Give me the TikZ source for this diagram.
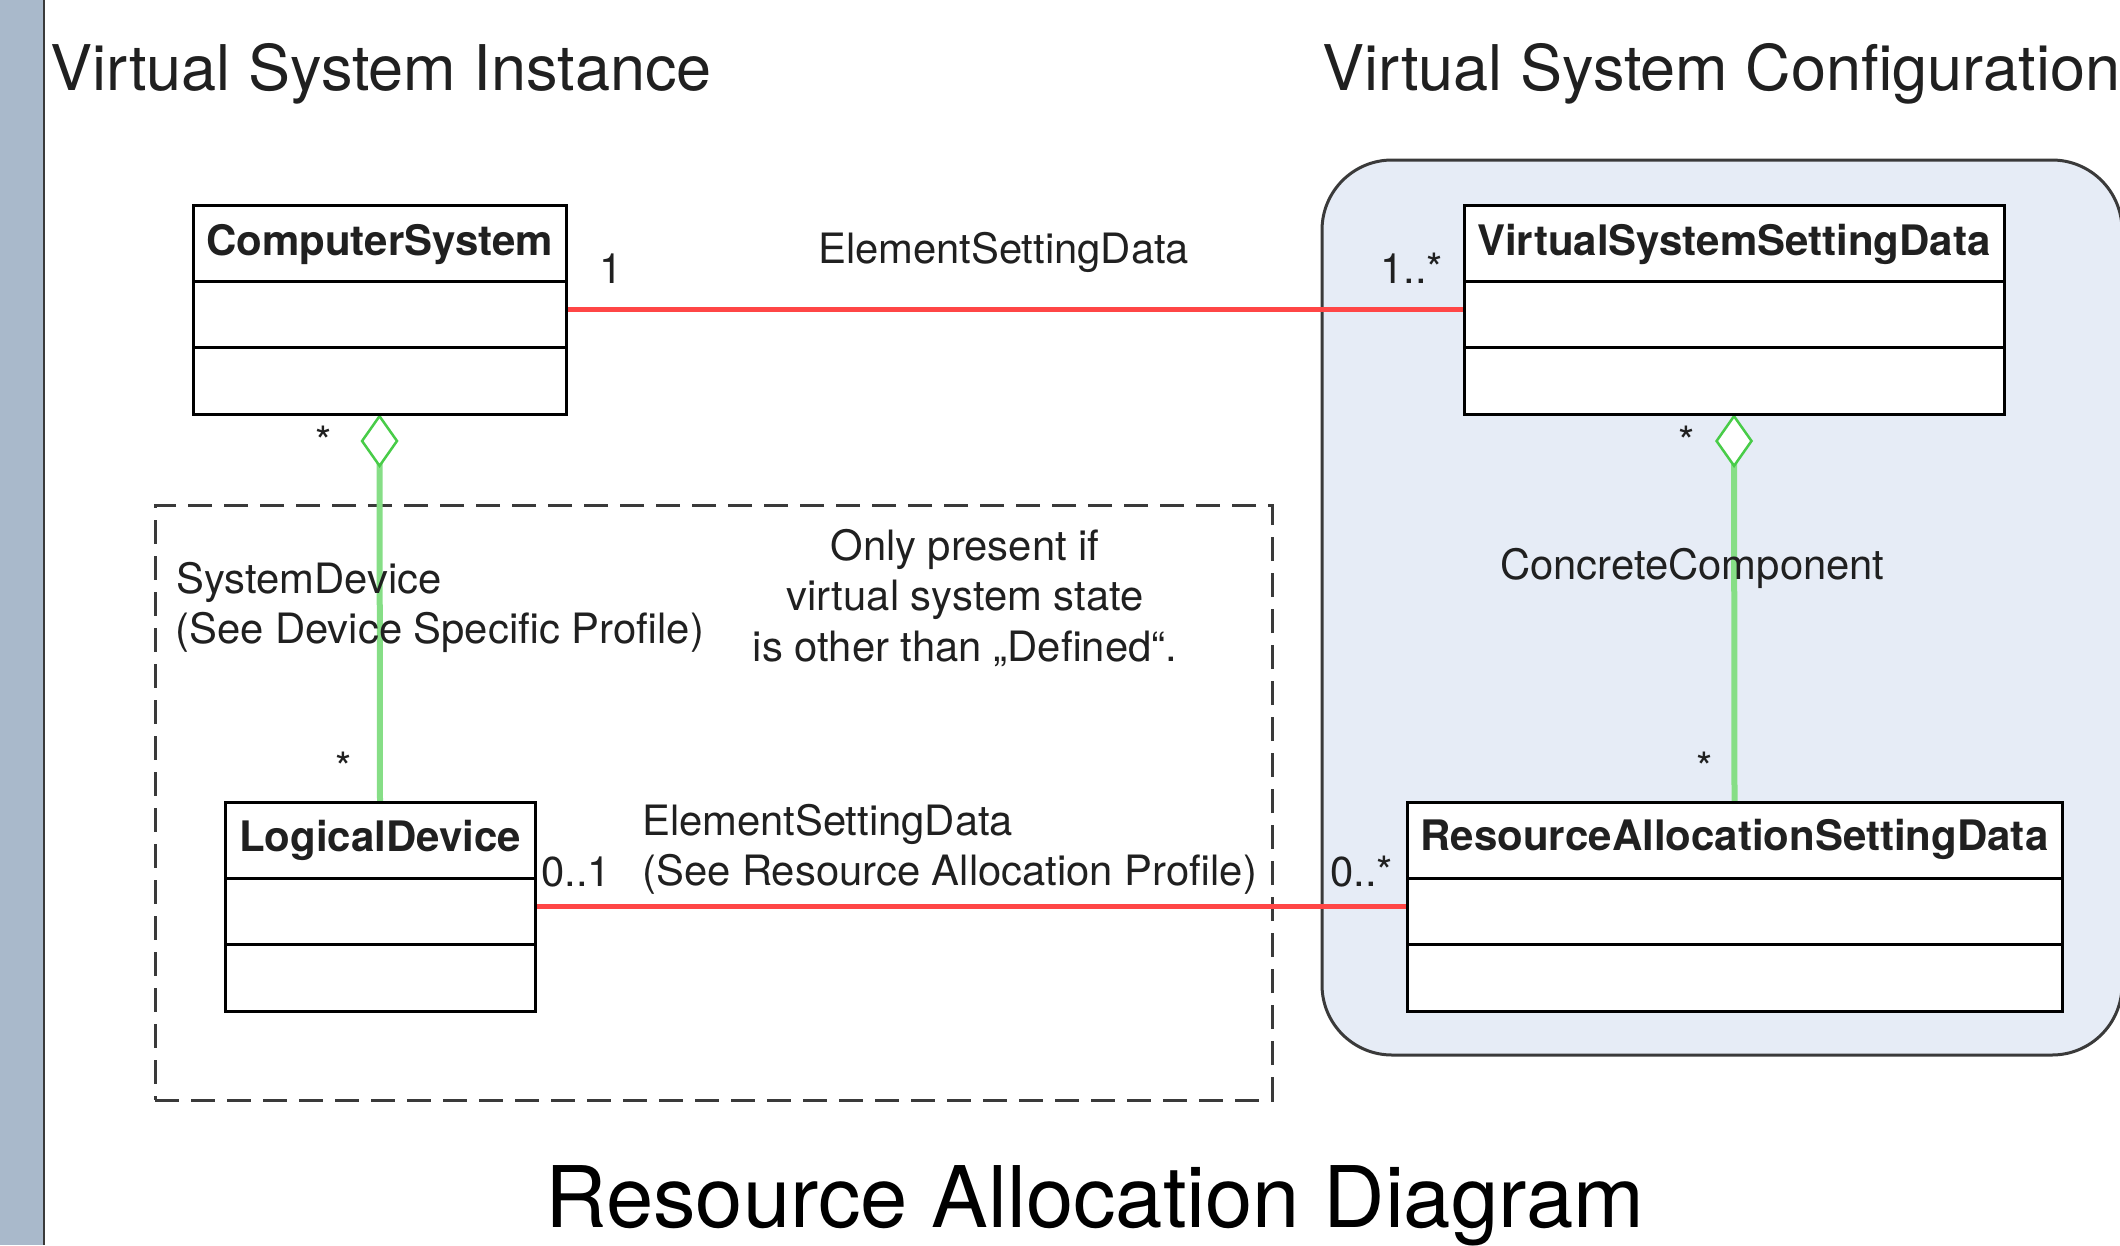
\documentclass[tikz,border=0pt]{standalone}
\usepackage{fontspec}
\setmainfont{TeX Gyre Heros}
\usetikzlibrary{arrows.meta}
\pgfdeclarelayer{bg}
\pgfsetlayers{bg,main}
\definecolor{barblue}{HTML}{A9B9CB}
\definecolor{vscfill}{HTML}{E6ECF6}
\definecolor{assocred}{HTML}{FF4646}
\definecolor{aggline}{HTML}{86DE86}
\definecolor{aggtip}{HTML}{48CC48}
\definecolor{ink}{HTML}{202020}
\definecolor{frameink}{HTML}{3A3A3A}
\begin{document}
\begin{tikzpicture}[x=1pt,y=-1pt,
  classbox/.style={draw=black, line width=3pt, fill=white, minimum width=#1,
    minimum height=209pt, inner sep=0pt, outer sep=0pt, anchor=north west},
  divider/.style={draw=black, line width=3pt},
  classname/.style={font=\fontsize{42}{50}\selectfont\bfseries, text=ink,
    inner sep=0pt, anchor=base},
  lbl/.style={font=\fontsize{41.8}{50}\selectfont, text=ink, inner sep=0pt,
    anchor=base west},
  lblc/.style={font=\fontsize{41.8}{50}\selectfont, text=ink, inner sep=0pt,
    anchor=base},
  title/.style={font=\fontsize{63}{74}\selectfont, text=ink, inner sep=0pt,
    anchor=base west},
  assoc/.style={draw=assocred, line width=5pt},
  agg/.style={draw=aggline, line width=6pt,
    arrows={Diamond[length=54pt, width=38pt, fill=white, color=aggtip, line width=2.5pt]-}},
]
\useasboundingbox (0,0) rectangle (2120,1245);

% side bar
\node[fill=barblue, draw=none, minimum width=44pt, minimum height=1245pt,
  inner sep=0pt, outer sep=0pt, anchor=north west] (sidebar) at (0,0) {};
\draw[line width=2.5pt, color=frameink] (sidebar.north east) -- (sidebar.south east);

% titles
\node[title] (titleA) at (50,90) {Virtual System Instance};
\node[title] (titleB) at (1322,90) {Virtual System Configuration};
\node[font=\fontsize{85}{100}\selectfont, text=black, inner sep=0pt, anchor=base]
  (titleC) at (1095,1227) {Resource Allocation Diagram};

% class boxes
\node[classbox=373pt] (cs) at (193,205) {};
\node[classbox=540pt] (vssd) at (1464,205) {};
\node[classbox=310pt] (ld) at (225,802) {};
\node[classbox=655pt] (rasd) at (1407,802) {};

\foreach \b in {cs,vssd,ld,rasd}{
  \draw[divider] ([yshift=-76pt]\b.north west) -- ([yshift=-76pt]\b.north east);
  \draw[divider] ([yshift=-142pt]\b.north west) -- ([yshift=-142pt]\b.north east);
}
\node[classname] (csname) at ([yshift=-50pt]cs.north) {ComputerSystem};
\node[classname] (vssdname) at ([yshift=-50pt]vssd.north) {VirtualSystemSettingData};
\node[classname] (ldname) at ([yshift=-49pt]ld.north) {LogicalDevice};
\node[classname] (rasdname) at ([yshift=-48pt]rasd.north) {ResourceAllocationSettingData};

% background: container, optional frame, connectors
\begin{pgfonlayer}{bg}
\node[draw=frameink, line width=3pt, fill=vscfill, rounded corners=70pt,
  minimum width=800pt, minimum height=895pt, inner sep=0pt, outer sep=0pt,
  anchor=north west] (vsc) at (1322,160) {};
\node[draw=frameink, line width=3pt, dash pattern=on 24pt off 12pt,
  minimum width=1117pt, minimum height=595pt, inner sep=0pt, outer sep=0pt,
  anchor=north west] (optframe) at (155,505) {};
\draw[assoc] (cs.east) -- (vssd.west);
\draw[assoc] (ld.east) -- (rasd.west);
\draw[agg] (cs.south) -- (ld.north);
\draw[agg] (vssd.south) -- (rasd.north);
\end{pgfonlayer}

% association labels
\node[lbl] (m1) at (599,283) {1};
\node[lbl] (esdA) at (818,263) {ElementSettingData};
\node[lbl] (m2) at (1380,283) {1..*};
\node[lbl] (m3) at (541,886) {0..1};
\node[lbl] (esdB) at (642,835) {ElementSettingData};
\node[lbl] (esdBsub) at (642,885) {(See Resource Allocation Profile)};
\node[lbl] (m4) at (1330,886) {0..*};

% aggregation labels
\node[lbl] (sysdev) at (176,593) {SystemDevice};
\node[lbl] (sysdevsub) at (175,643) {(See Device Specific Profile)};
\node[lbl] (concomp) at (1500,579) {ConcreteComponent};
\node[lblc] (s1) at (324,456) {*};
\node[lblc] (s2) at (1687,456) {*};
\node[lblc] (s3) at (344,782) {*};
\node[lblc] (s4) at (1705,782) {*};

% note
\node[lblc] (noteA) at (965,560) {Only present if};
\node[lblc] (noteB) at (965,610) {virtual system state};
\node[lblc] (noteC) at (965,661) {is other than „Defined“.};
\end{tikzpicture}
\end{document}
